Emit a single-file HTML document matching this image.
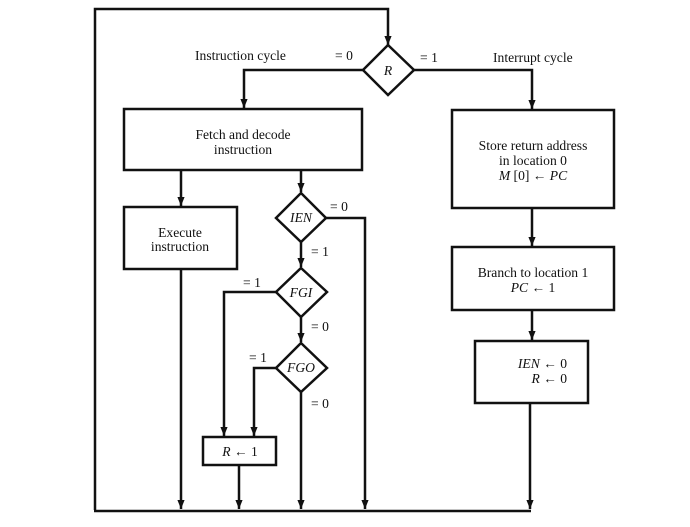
<!DOCTYPE html>
<html><head><meta charset="utf-8"><style>
html,body{margin:0;padding:0;background:#fff;}
svg{display:block}
text{font-family:"Liberation Serif",serif;font-size:13.6px;fill:#111}
.i{font-style:italic}
</style></head><body>
<svg width="690" height="527" viewBox="0 0 690 527" xmlns="http://www.w3.org/2000/svg">
<defs>
<marker id="a" viewBox="0 0 10 10" refX="10" refY="5" markerWidth="3.6" markerHeight="3.6" orient="auto" markerUnits="strokeWidth">
<path d="M0,1 L10,5 L0,9 z" fill="#111"/></marker>
</defs>
<g stroke="#111" stroke-width="2.5" fill="none">
<polyline points="95,510 95,9 388,9 388,45" marker-end="url(#a)"/>
<polygon points="388,45 414,70 388,95 363,70" fill="#fff"/>
<polyline points="363,70 244,70 244,108" marker-end="url(#a)"/>
<polyline points="414,70 532,70 532,109" marker-end="url(#a)"/>
<rect x="124" y="109" width="238" height="61"/>
<rect x="124" y="207" width="113" height="62"/>
<rect x="452" y="110" width="162" height="98"/>
<rect x="452" y="247" width="162" height="63"/>
<rect x="475" y="341" width="113" height="62"/>
<rect x="203" y="437" width="73" height="28"/>
<line x1="181" y1="170" x2="181" y2="206" marker-end="url(#a)"/>
<line x1="301" y1="170" x2="301" y2="192" marker-end="url(#a)"/>
<polygon points="301,193 326,218 301,242 276,218" fill="#fff"/>
<polyline points="326,218 365,218 365,509" marker-end="url(#a)"/>
<line x1="301" y1="242" x2="301" y2="267" marker-end="url(#a)"/>
<polygon points="301,268 327,292 301,317 276,292" fill="#fff"/>
<polyline points="276,292 224,292 224,436" marker-end="url(#a)"/>
<line x1="301" y1="317" x2="301" y2="342" marker-end="url(#a)"/>
<polygon points="301,343 327,368 301,392 276,368" fill="#fff"/>
<polyline points="276,368 254,368 254,436" marker-end="url(#a)"/>
<line x1="301" y1="392" x2="301" y2="509" marker-end="url(#a)"/>
<line x1="181" y1="269" x2="181" y2="509" marker-end="url(#a)"/>
<line x1="239" y1="465" x2="239" y2="509" marker-end="url(#a)"/>
<line x1="532" y1="208" x2="532" y2="246" marker-end="url(#a)"/>
<line x1="532" y1="310" x2="532" y2="340" marker-end="url(#a)"/>
<line x1="530" y1="403" x2="530" y2="509" marker-end="url(#a)"/>
<line x1="94" y1="511" x2="531" y2="511"/>
</g>
<text x="195" y="60">Instruction cycle</text>
<text x="335" y="60">= 0</text>
<text x="420" y="62">= 1</text>
<text x="493" y="62">Interrupt cycle</text>
<text x="388" y="75" text-anchor="middle" class="i">R</text>
<text x="243" y="139" text-anchor="middle">Fetch and decode</text>
<text x="243" y="154" text-anchor="middle">instruction</text>
<text x="180" y="237" text-anchor="middle">Execute</text>
<text x="180" y="251" text-anchor="middle">instruction</text>
<text x="533" y="150" text-anchor="middle">Store return address</text>
<text x="533" y="165" text-anchor="middle">in location 0</text>
<text x="533" y="180" text-anchor="middle"><tspan class="i">M</tspan> [0] ← <tspan class="i">PC</tspan></text>
<text x="533" y="277" text-anchor="middle">Branch to location 1</text>
<text x="533" y="292" text-anchor="middle"><tspan class="i">PC</tspan> ← 1</text>
<text x="567" y="368" text-anchor="end"><tspan class="i">IEN</tspan> ← 0</text>
<text x="567" y="383" text-anchor="end"><tspan class="i">R</tspan> ← 0</text>
<text x="240" y="456" text-anchor="middle"><tspan class="i">R</tspan> ← 1</text>
<text x="301" y="222" text-anchor="middle" class="i">IEN</text>
<text x="301" y="297" text-anchor="middle" class="i">FGI</text>
<text x="301" y="372" text-anchor="middle" class="i">FGO</text>
<text x="330" y="211">= 0</text>
<text x="311" y="256">= 1</text>
<text x="243" y="287">= 1</text>
<text x="311" y="331">= 0</text>
<text x="249" y="362">= 1</text>
<text x="311" y="408">= 0</text>
</svg>
</body></html>
